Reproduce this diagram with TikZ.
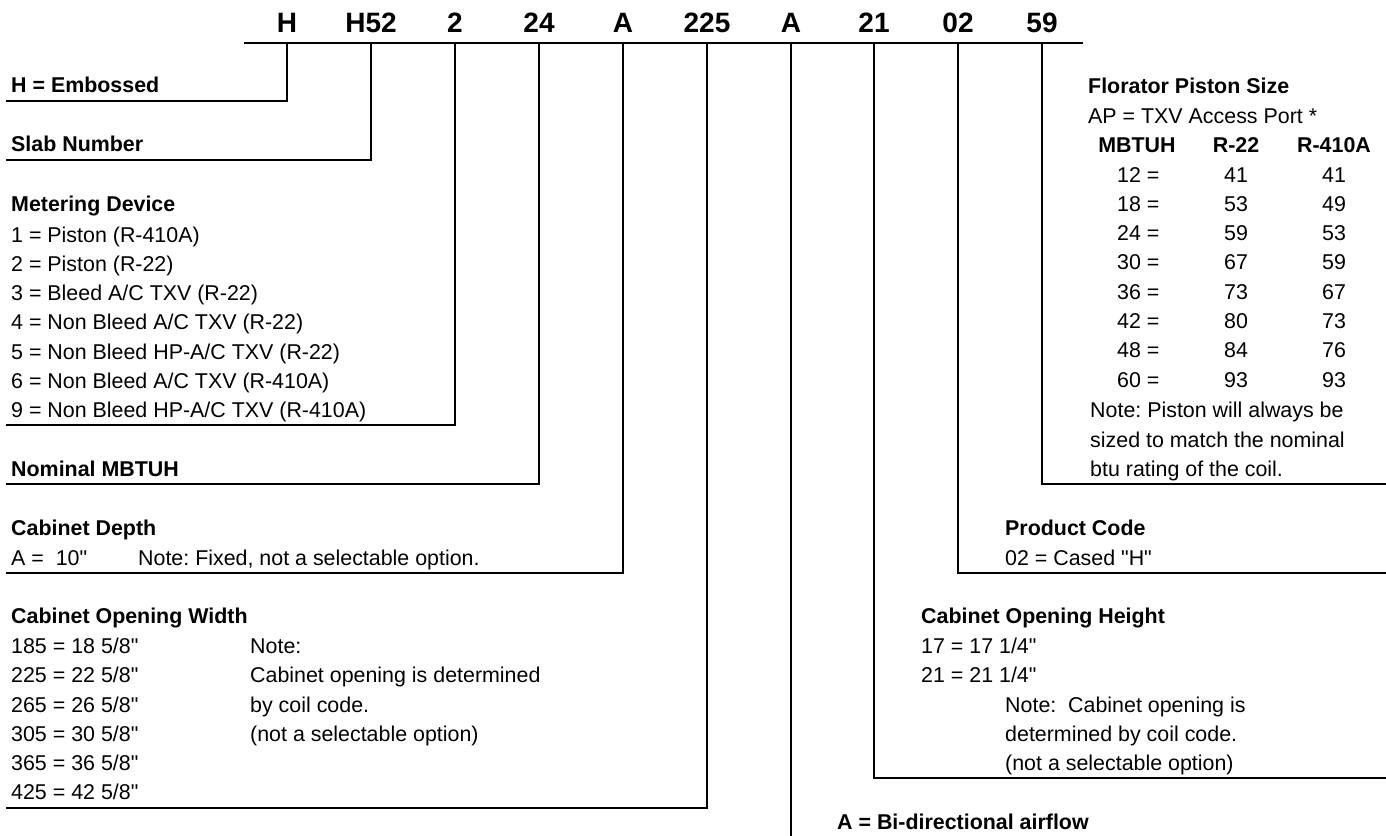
\documentclass[tikz,border=0pt]{standalone}
\usepackage{fontspec}
\setmainfont{Liberation Sans}[Ligatures=TeXOff]
\frenchspacing
\begin{document}
\begin{tikzpicture}[x=1pt,y=-1pt,
  code/.style={anchor=base,inner sep=0pt,font=\fontsize{28}{34}\selectfont\bfseries},
  txt/.style={anchor=base west,inner sep=0pt,font=\fontsize{21.4}{25}\selectfont},
  hdr/.style={txt,font=\fontsize{21.4}{25}\selectfont\bfseries},
  ctxt/.style={anchor=base,inner sep=0pt,font=\fontsize{21.4}{25}\selectfont},
  chdr/.style={ctxt,font=\fontsize{21.4}{25}\selectfont\bfseries},
  wire/.style={line width=2.8pt,line join=miter,line cap=rect}]
\useasboundingbox (0,0) rectangle (1386,835);

% code letters
\node[code] (cH)   at (287,32) {H};
\node[code] (cS)   at (371,32) {H52};
\node[code] (cM)   at (455,32) {2};
\node[code] (cN)   at (539,32) {24};
\node[code] (cD)   at (623,32) {A};
\node[code] (cW)   at (707,32) {225};
\node[code] (cA)   at (791,32) {A};
\node[code] (cHt)  at (874,32) {21};
\node[code] (cP)   at (958,32) {02};
\node[code] (cF)   at (1042,32) {59};

% top bar
\coordinate (barL) at (244,43);
\coordinate (barR) at (1083,43);
\draw[wire,line cap=butt] (barL) -- (barR);

\foreach \n in {cH,cS,cM,cN,cD,cW,cA,cHt,cP,cF}
  \coordinate (t\n) at (\n |- barL);

% line ends
\coordinate (eH)  at (7,101);
\coordinate (eS)  at (7,160);
\coordinate (eM)  at (7,425);
\coordinate (eN)  at (7,484);
\coordinate (eD)  at (7,573);
\coordinate (eW)  at (7,808);
\coordinate (eA)  at (791,840);
\coordinate (eHt) at (1390,778);
\coordinate (eP)  at (1390,573);
\coordinate (eF)  at (1390,484);

\draw[wire] (tcH) |- (eH);
\draw[wire] (tcS) |- (eS);
\draw[wire] (tcM) |- (eM);
\draw[wire] (tcN) |- (eN);
\draw[wire] (tcD) |- (eD);
\draw[wire] (tcW) |- (eW);
\draw[wire] (tcA) -- (eA);
\draw[wire] (tcHt) |- (eHt);
\draw[wire] (tcP) |- (eP);
\draw[wire] (tcF) |- (eF);

% left texts
\node[hdr] (tEmb) at (11,92) {H = Embossed};
\node[hdr] (tSlab) at (11,151) {Slab Number};
\node[hdr] (tMet) at (11,211) {Metering Device};
\node[txt] (m1) at (11,242) {1 = Piston (R-410A)};
\node[txt] (m2) at (11,271) {2 = Piston (R-22)};
\node[txt] (m3) at (11,300) {3 = Bleed A/C TXV (R-22)};
\node[txt] (m4) at (11,329) {4 = Non Bleed A/C TXV (R-22)};
\node[txt] (m5) at (11,359) {5 = Non Bleed HP-A/C TXV (R-22)};
\node[txt] (m6) at (11,388) {6 = Non Bleed A/C TXV (R-410A)};
\node[txt] (m9) at (11,417) {9 = Non Bleed HP-A/C TXV (R-410A)};
\node[hdr] (tNom) at (11,476) {Nominal MBTUH};
\node[hdr] (tDep) at (11,535) {Cabinet Depth};
\node[txt] (d1) at (11,565) {A =\ \ 10"};
\node[txt] (d2) at (138,565) {Note: Fixed, not a selectable option.};
\node[hdr] (tWid) at (11,623) {Cabinet Opening Width};
\node[txt] (w1) at (11,653) {185 = 18 5/8"};
\node[txt] (w2) at (11,682) {225 = 22 5/8"};
\node[txt] (w3) at (11,712) {265 = 26 5/8"};
\node[txt] (w4) at (11,741) {305 = 30 5/8"};
\node[txt] (w5) at (11,770) {365 = 36 5/8"};
\node[txt] (w6) at (11,799) {425 = 42 5/8"};
\node[txt] (wn1) at (250,653) {Note:};
\node[txt] (wn2) at (250,682) {Cabinet opening is determined};
\node[txt] (wn3) at (250,712) {by coil code.};
\node[txt] (wn4) at (250,741) {(not a selectable option)};

% right texts
\node[hdr] (tFlo) at (1088,93) {Florator Piston Size};
\node[txt] (fAP) at (1088,123) {AP = TXV Access Port *};
\node[chdr] (fh1) at (1137,152) {MBTUH};
\node[chdr] (fh2) at (1236,152) {R-22};
\node[chdr] (fh3) at (1334,152) {R-410A};
\foreach \m/\a/\b [count=\i from 0] in {12/41/41,18/53/49,24/59/53,30/67/59,36/73/67,42/80/73,48/84/76,60/93/93}{
  \node[txt] (fm\i) at (1117,182+29.3*\i) {\m\ =};
  \node[ctxt] (fa\i) at (1236,182+29.3*\i) {\a};
  \node[ctxt] (fb\i) at (1334,182+29.3*\i) {\b};
}
\node[txt] (fn1) at (1090,417) {Note: Piston will always be};
\node[txt] (fn2) at (1090,447) {sized to match the nominal};
\node[txt] (fn3) at (1090,476) {btu rating of the coil.};
\node[hdr] (tProd) at (1005,535) {Product Code};
\node[txt] (p1) at (1005,565) {02 = Cased "H"};
\node[hdr] (tHgt) at (921,623) {Cabinet Opening Height};
\node[txt] (h1) at (921,653) {17 = 17 1/4"};
\node[txt] (h2) at (921,682) {21 = 21 1/4"};
\node[txt] (hn1) at (1005,712) {Note:\ \ Cabinet opening is};
\node[txt] (hn2) at (1005,741) {determined by coil code.};
\node[txt] (hn3) at (1005,770) {(not a selectable option)};
\node[hdr] (tAir) at (837,829) {A = Bi-directional airflow};
\end{tikzpicture}
\end{document}
